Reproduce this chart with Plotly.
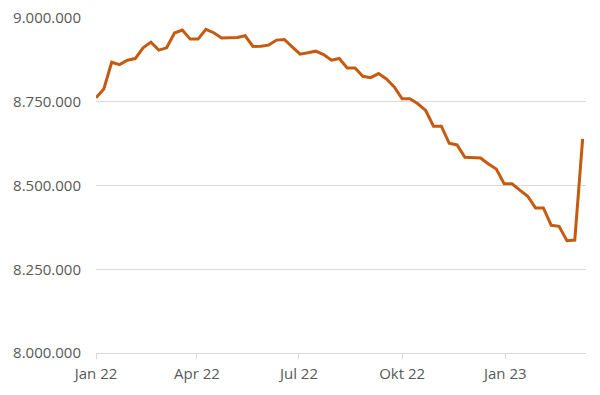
import pandas as pd
import plotly.graph_objects as go

start_date = "2022-01-01"
values = [
    8762000, 8788000, 8868000, 8861000, 8874000, 8879000, 8911000, 8928000, 8904000, 8911000,
    8955000, 8964000, 8937000, 8937000, 8966000, 8956000, 8940000, 8940000, 8942000, 8947000,
    8915000, 8916000, 8919000, 8934000, 8936000, 8914000, 8892000, 8896000, 8901000, 8891000,
    8874000, 8879000, 8851000, 8851000, 8826000, 8822000, 8834000, 8818000, 8794000, 8759000,
    8759000, 8744000, 8724000, 8677000, 8677000, 8626000, 8621000, 8584000, 8582000, 8582000,
    8564000, 8549000, 8505000, 8505000, 8486000, 8468000, 8433000, 8433000, 8381000, 8378000,
    8335000, 8337000, 8639000,
]
dates = pd.date_range(start_date, periods=len(values), freq="7D")

x_tick_vals = ["2022-01-01", "2022-04-01", "2022-07-01", "2022-10-01", "2023-01-01"]
x_tick_text = ["Jan 22", "Apr 22", "Jul 22", "Okt 22", "Jan 23"]
y_tick_vals = [8000000, 8250000, 8500000, 8750000, 9000000]
y_tick_text = ["8.000.000", "8.250.000", "8.500.000", "8.750.000", "9.000.000"]

fig = go.Figure()
fig.add_trace(go.Scatter(
    x=dates, y=values, mode="lines",
    line=dict(color="#C55A11", width=3),
    hoverinfo="skip",
))

font = dict(family="Open Sans", size=15, color="#595959")
fig.update_layout(
    width=600, height=395,
    margin=dict(l=96, r=14, t=18, b=42, autoexpand=False),
    paper_bgcolor="white", plot_bgcolor="white",
    showlegend=False,
    font=font,
)
fig.update_xaxes(
    automargin=False,
    range=["2022-01-01", "2023-03-14"],
    tickvals=x_tick_vals, ticktext=x_tick_text,
    showgrid=False, zeroline=False,
    showline=True, linecolor="#D9D9D9", linewidth=1,
    ticks="outside", ticklen=5, tickcolor="#D9D9D9",
    ticklabelstandoff=2,
    tickfont=font,
)
fig.update_yaxes(
    automargin=False,
    range=[8000000, 9000000],
    tickvals=y_tick_vals, ticktext=y_tick_text,
    showgrid=True, gridcolor="#D9D9D9", gridwidth=1,
    zeroline=False, showline=False,
    ticks="", ticklabelstandoff=14,
    tickfont=font,
)

fig.write_html(
    "out.html",
    config={"displayModeBar": False, "staticPlot": True},
    post_script="document.body.style.margin='0';",
)
